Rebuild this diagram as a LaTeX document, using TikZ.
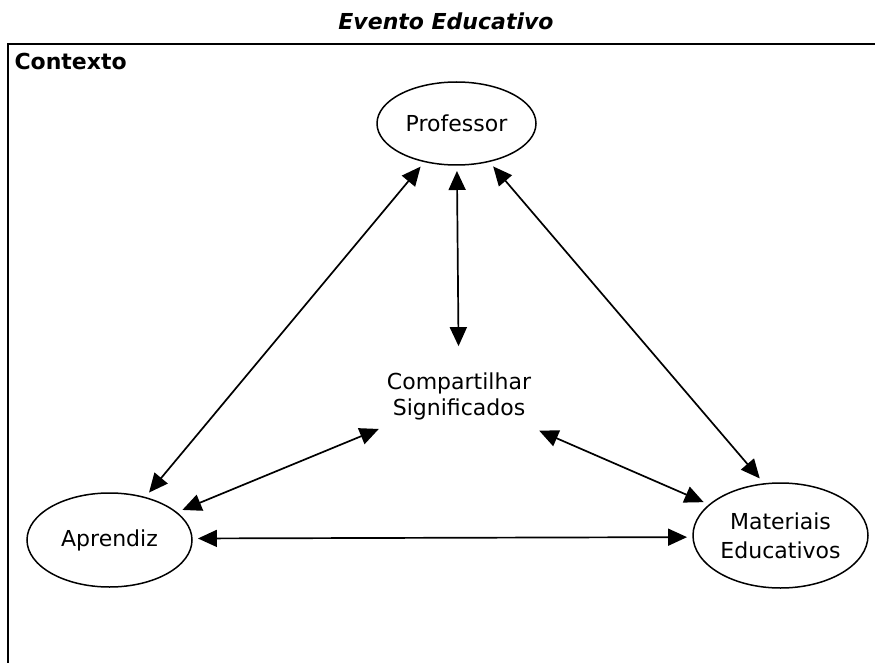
\documentclass[tikz,border=0pt]{standalone}
\usepackage{fontspec}
\setmainfont{DejaVu Sans}
\usetikzlibrary{arrows.meta,shapes.geometric}

\begin{document}
\begin{tikzpicture}[x=1pt, y=-1pt,
	ell/.style = {draw, ellipse, line width=1.5pt, inner sep=0pt, outer sep=6pt, align=center},
	lnk/.style = {{Triangle[length=19pt,width=17pt]}-{Triangle[length=19pt,width=17pt]}, line width=1.7pt},
	font = \fontsize{22}{26}\selectfont]
	\useasboundingbox (0,0) rectangle (875,663);
	% moldura do contexto
	\draw [line width=1.6pt] (8,663) -- (8,44) -- (875,44);
	\node (titulo) at (446,21) {\bfseries\itshape Evento Educativo};
	\node [anchor=west] (contexto) at (11,61) {\bfseries Contexto};

	\node [ell, minimum width=159pt, minimum height=83pt] (prof) at (456.5,123.5) {Professor};
	\node [ell, minimum width=165pt, minimum height=94pt] (apr) at (109.5,540) {Aprendiz};
	\node [ell, minimum width=175pt, minimum height=105pt] (mat) at (780.5,535.5) {Materiais\\[3pt]Educativos};
	\node [align=center, inner xsep=8pt, inner ysep=26pt] (sig) at (459,396) {Compartilhar\\Significados};

	\draw [lnk] (prof) -- (apr);
	\draw [lnk] (prof) -- (sig);
	\draw [lnk] (prof) -- (mat.110);
	\draw [lnk] (apr) -- (sig);
	\draw [lnk] (sig) -- (mat);
	\draw [lnk] (apr.1) -- (mat.181);
\end{tikzpicture}
\end{document}
